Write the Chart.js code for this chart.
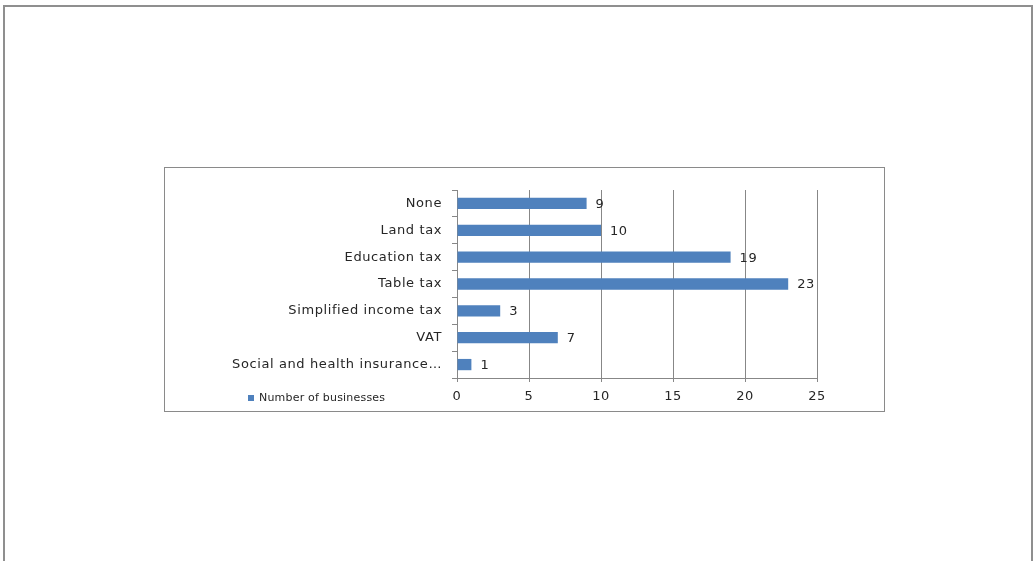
<!DOCTYPE html>
<html>
<head>
<meta charset="utf-8">
<script src="https://cdn.jsdelivr.net/npm/chart.js@4/dist/chart.umd.min.js"></script>
<style>
    body { margin: 0; background: #fff; width: 1034px; height: 561px; overflow: hidden; position: relative; }
    .page { position: absolute; left: 3px; top: 5px; width: 1026px; height: 600px; border: 2px solid #8f8f8f; border-bottom: none; }
    .box { position: absolute; left: 164px; top: 167px; width: 719px; height: 243px; border: 1px solid #8a8a8a; }
</style>
</head>
<body>
<div class="page"></div>
<div class="box"><canvas id="barChart"></canvas></div>
<script>
const categories = ['None', 'Land tax', 'Education tax', 'Table tax', 'Simplified income tax', 'VAT', 'Social and health insurance…'];
const businesses = [9, 10, 19, 23, 3, 7, 1];
const xTicks = [0, 5, 10, 15, 20, 25];
const seriesName = 'Number of businesses';

const barColor = '#4f81bd';
const lineColor = '#878787';
const textColor = '#262626';
const font = 'DejaVu Sans';

// the original text is a little spaced out
const spacing = {
    id: 'spacing',
    beforeUpdate(chart) { chart.ctx.letterSpacing = '0.6px'; },
    beforeDraw(chart) { chart.ctx.letterSpacing = '0.6px'; }
};

// value labels next to each bar end
const valueLabels = {
    id: 'valueLabels',
    afterDatasetsDraw(chart) {
        const ctx = chart.ctx;
        const meta = chart.getDatasetMeta(0);
        ctx.save();
        ctx.font = '13px "' + font + '"';
        ctx.fillStyle = textColor;
        ctx.textAlign = 'left';
        ctx.textBaseline = 'middle';
        meta.data.forEach((bar, i) => {
            ctx.fillText(String(chart.data.datasets[0].data[i]), bar.x + 9, bar.y + 1);
        });
        ctx.restore();
    }
};

// legend drawn in the bottom-left corner, level with the x tick labels
const cornerLegend = {
    id: 'cornerLegend',
    afterDraw(chart) {
        const ctx = chart.ctx;
        const y = chart.scales.x.bottom - 13;
        ctx.save();
        ctx.letterSpacing = '0.2px';
        ctx.fillStyle = barColor;
        ctx.fillRect(83, y - 3, 6, 6);
        ctx.font = '11px "' + font + '"';
        ctx.fillStyle = textColor;
        ctx.textBaseline = 'middle';
        ctx.fillText(chart.data.datasets[0].label, 94, y);
        ctx.restore();
    }
};

new Chart(document.getElementById('barChart').getContext('2d'), {
    type: 'bar',
    data: {
        labels: categories,
        datasets: [{
            label: seriesName,
            data: businesses,
            backgroundColor: barColor,
            barPercentage: 0.42,
            categoryPercentage: 1
        }]
    },
    options: {
        indexAxis: 'y',
        responsive: true,
        maintainAspectRatio: false,
        animation: false,
        layout: { padding: { top: 22, right: 67, bottom: 0, left: 0 } },
        plugins: { legend: { display: false }, tooltip: { enabled: false } },
        scales: {
            x: {
                min: 0,
                max: 25,
                afterBuildTicks: axis => { axis.ticks = xTicks.map(v => ({ value: v })); },
                afterFit: axis => { axis.height = 33; },
                grid: { color: lineColor, tickLength: 4 },
                border: { color: lineColor },
                ticks: { color: textColor, padding: 7, font: { family: font, size: 13 } }
            },
            y: {
                afterFit: axis => { axis.width = 292; },
                grid: { drawOnChartArea: false, color: lineColor, tickLength: 5, offset: true },
                border: { color: lineColor },
                ticks: { color: textColor, padding: 10, font: { family: font, size: 13 } }
            }
        }
    },
    plugins: [spacing, valueLabels, cornerLegend]
});
</script>
</body>
</html>
